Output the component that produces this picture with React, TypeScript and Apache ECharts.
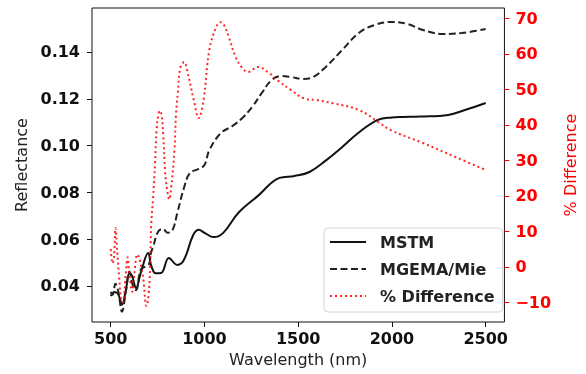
import React, { useEffect, useRef } from "react";
import * as echarts from "echarts";

const mstmWl = [500, 520, 540, 560, 580, 600, 615, 635, 660, 700, 715, 740, 770, 810, 855, 890, 940, 970, 1000, 1050, 1100, 1180, 1285, 1400, 1480, 1560, 1650, 1735, 1820, 1925, 2000, 2060, 2150, 2300, 2390, 2500];
const mstmVal = [0.0357, 0.0374, 0.0365, 0.032, 0.038, 0.0455, 0.044, 0.039, 0.0456, 0.0541, 0.0489, 0.0454, 0.0456, 0.052, 0.049, 0.0511, 0.0618, 0.064, 0.0627, 0.0609, 0.0627, 0.0712, 0.0785, 0.0862, 0.087, 0.0887, 0.0938, 0.0994, 0.1054, 0.111, 0.112, 0.1122, 0.1124, 0.1131, 0.1152, 0.1182];

const mgemaWl = [500, 510, 525, 540, 560, 580, 600, 615, 635, 660, 690, 705, 716, 726, 752, 778, 804, 830, 855, 892, 923, 969, 1000, 1026, 1088, 1150, 1202, 1254, 1306, 1358, 1409, 1461, 1528, 1580, 1647, 1735, 1823, 1906, 1994, 2082, 2165, 2269, 2372, 2500];
const mgemaVal = [0.0375, 0.0362, 0.041, 0.0378, 0.029, 0.0372, 0.0462, 0.041, 0.0382, 0.047, 0.0485, 0.0495, 0.0545, 0.0567, 0.0631, 0.0644, 0.0627, 0.064, 0.0712, 0.0823, 0.0883, 0.09, 0.0917, 0.0981, 0.1054, 0.1084, 0.1118, 0.1165, 0.1225, 0.128, 0.1297, 0.1293, 0.1285, 0.1293, 0.1336, 0.1409, 0.1481, 0.1515, 0.1528, 0.152, 0.1494, 0.1477, 0.1481, 0.1498];

const diffWl = [500, 510, 518, 525, 535, 545, 555, 565, 580, 590, 598, 615, 625, 642, 670, 690, 705, 716, 726, 736, 745, 755, 762, 772, 780, 790, 800, 812, 822, 840, 848, 858, 871, 892, 907, 943, 969, 995, 1026, 1062, 1085, 1104, 1130, 1166, 1202, 1233, 1285, 1337, 1389, 1461, 1528, 1596, 1684, 1823, 1927, 1994, 2165, 2341, 2500];
const diffVal = [5, 1, 3, 11, 4, -3, -9, -10, -2, 2.7, -1.5, -7, -2.3, 3.5, -2, -11, -6, 12, 19.5, 29, 39, 43, 44, 42.5, 37, 27, 22, 19, 22, 33, 43, 49, 56, 57.7, 55.4, 47, 41.9, 47, 61.1, 67.5, 68.9, 68.1, 64.7, 59.1, 56, 54.9, 56.3, 54.9, 52.6, 49.8, 47.5, 47, 46.1, 44.2, 40.8, 38.5, 34.9, 30.9, 27.3];

const xTicks = [500, 1000, 1500, 2000, 2500];
const leftTicks = [0.04, 0.06, 0.08, 0.1, 0.12, 0.14];
const rightTicks = [-10, 0, 10, 20, 30, 40, 50, 60, 70];

const FONT = "DejaVu Sans";

export default function App() {
  const ref = useRef<HTMLDivElement>(null);
  useEffect(() => {
    if (!ref.current) return;
    const chart = echarts.init(ref.current, null, { renderer: "svg" });
    const pair = (xs: number[], ys: number[]) => xs.map((x, i) => [x, ys[i]]);
    chart.setOption({
      animation: false,
      textStyle: { fontFamily: FONT },
      grid: {
        left: 92, right: 69, top: 8, bottom: 52,
        show: true, borderColor: "#111", borderWidth: 1, backgroundColor: "transparent",
      },
      legend: {
        orient: "vertical",
        left: 324,
        top: 228,
        backgroundColor: "#fff",
        borderColor: "#d4d4d4",
        borderWidth: 1,
        borderRadius: 4,
        padding: [5, 8, 7, 5],
        itemWidth: 36,
        itemHeight: 14,
        itemGap: 9,
        itemStyle: { opacity: 0 },
        textStyle: { fontFamily: FONT, fontWeight: "bold", fontSize: 16, color: "#222", lineHeight: 18, padding: [0, 0, 0, 9] },
        data: ["MSTM", "MGEMA/Mie", "% Difference"],
      },
      xAxis: {
        type: "value",
        min: 400,
        max: 2600,
        name: "Wavelength (nm)",
        nameLocation: "middle",
        nameGap: 29,
        nameTextStyle: { fontFamily: FONT, fontSize: 16, color: "#222" },
        axisLine: { show: false, onZero: false },
        splitLine: { show: false },
        axisTick: { show: true, length: 5, lineStyle: { color: "#111" }, customValues: xTicks },
        axisLabel: {
          customValues: xTicks,
          margin: 8,
          fontFamily: FONT, fontWeight: "bold", fontSize: 16, color: "#111",
          formatter: (v: number) => String(v),
        },
      },
      yAxis: [
        {
          type: "value",
          min: 0.0246,
          max: 0.1588,
          position: "left",
          name: "Reflectance",
          nameLocation: "middle",
          nameGap: 55,
          nameTextStyle: { fontFamily: FONT, fontSize: 16, color: "#222" },
          axisLine: { show: false, onZero: false },
          splitLine: { show: false },
          axisTick: { show: true, length: 5, lineStyle: { color: "#111" }, customValues: leftTicks },
          axisLabel: {
            customValues: leftTicks,
            margin: 12,
            fontFamily: FONT, fontWeight: "bold", fontSize: 16, color: "#111",
            formatter: (v: number) => v.toFixed(2),
          },
        },
        {
          type: "value",
          min: -15.5,
          max: 72.9,
          position: "right",
          name: "% Difference",
          nameLocation: "middle",
          nameGap: 52,
          nameRotate: 90,
          nameTextStyle: { fontFamily: FONT, fontSize: 16, color: "#ff0000" },
          axisLine: { show: false, onZero: false },
          splitLine: { show: false },
          axisTick: { show: true, length: 5, lineStyle: { color: "#ff0000" }, customValues: rightTicks },
          axisLabel: {
            customValues: rightTicks,
            margin: 11,
            fontFamily: FONT, fontWeight: "bold", fontSize: 16, color: "#ff0000",
            formatter: (v: number) => String(Math.round(v)).replace("-", "\u2212"),
          },
        },
      ],
      series: [
        {
          name: "MSTM",
          type: "line",
          yAxisIndex: 0,
          data: pair(mstmWl, mstmVal),
          showSymbol: false,
          symbol: "none",
          smooth: 0.4,
          lineStyle: { color: "#111", width: 2, type: "solid" },
          itemStyle: { color: "#111" },
        },
        {
          name: "MGEMA/Mie",
          type: "line",
          yAxisIndex: 0,
          data: pair(mgemaWl, mgemaVal),
          showSymbol: false,
          symbol: "none",
          smooth: 0.4,
          lineStyle: { color: "#222", width: 2, type: [7, 3.5] },
          itemStyle: { color: "#222" },
        },
        {
          name: "% Difference",
          type: "line",
          yAxisIndex: 1,
          data: pair(diffWl, diffVal),
          showSymbol: false,
          symbol: "none",
          smooth: 0.4,
          lineStyle: { color: "rgba(255,0,0,0.85)", width: 2, type: [2, 3] },
          itemStyle: { color: "rgba(255,0,0,0.85)" },
        },
      ],
    });
    return () => chart.dispose();
  }, []);
  return <div ref={ref} style={{ position: "fixed", left: 0, top: 0, width: 586, height: 374 }} />;
}
